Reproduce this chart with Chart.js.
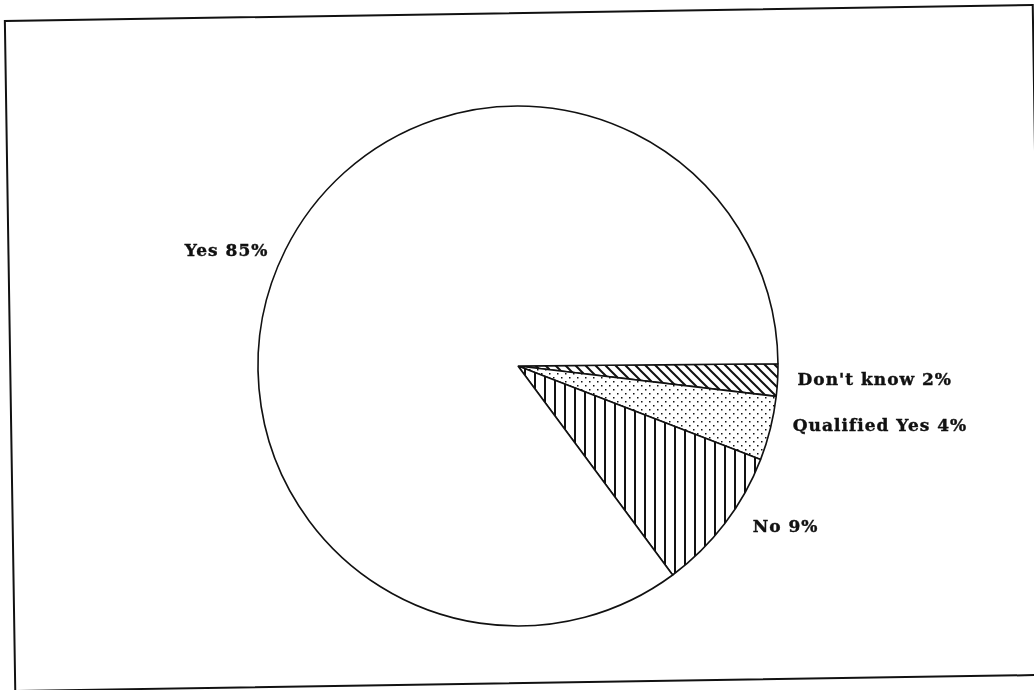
<!DOCTYPE html>
<html>
<head>
<meta charset="utf-8">
<script src="https://cdn.jsdelivr.net/npm/chart.js@4"></script>
<style>
  html, body { margin: 0; padding: 0; background: #fff; overflow: hidden; }
  #wrap { position: relative; width: 1034px; height: 690px; }
  #frame {
    position: absolute; left: 9px; top: 12px; width: 1030px; height: 672px;
    box-sizing: border-box; border: 2px solid #111;
    transform: rotate(-0.89deg);
  }
  canvas { position: absolute; left: 0; top: 0; }
</style>
</head>
<body>
<div id="wrap">
  <div id="frame"></div>
  <canvas id="myChart" width="1034" height="690"></canvas>
</div>
<script>
// survey answers, clockwise from 3 o'clock
var categories = ["Don't know", 'Qualified Yes', 'No', 'Yes'];
var shares = [2, 4, 9, 85];
var fills = ['diagonal', 'dots', 'vertical', 'plain'];

// small nudges for the outside labels
var labelNudge = [[0, -1], [3, -7], [12, -8], [1, 11]];

function pattern(kind) {
  if (kind === 'plain') return '#fff';
  var s = kind === 'dots' ? 8 : 10;
  var c = document.createElement('canvas');
  c.width = s; c.height = s;
  var g = c.getContext('2d');
  g.fillStyle = '#fff';
  g.fillRect(0, 0, s, s);
  g.fillStyle = '#111';
  g.strokeStyle = '#111';
  g.lineWidth = 2;
  if (kind === 'vertical') {
    g.fillRect(4, 0, 2, s);
  } else if (kind === 'diagonal') {
    g.beginPath();
    [-s, 0, s].forEach(function (k) {
      g.moveTo(-2, -2 + k);
      g.lineTo(s + 2, s + 2 + k);
    });
    g.stroke();
  } else {
    g.fillRect(1, 1, 1.5, 1.5);
    g.fillRect(5, 5, 1.5, 1.5);
  }
  return g.createPattern(c, 'repeat');
}

var outsideLabels = {
  id: 'outsideLabels',
  afterDatasetsDraw: function (chart) {
    var ctx = chart.ctx;
    var arcs = chart.getDatasetMeta(0).data;
    ctx.save();
    ctx.font = 'bold 17px "DejaVu Serif"';
    ctx.letterSpacing = '1px';
    ctx.textBaseline = 'middle';
    ctx.fillStyle = '#111';
    ctx.strokeStyle = '#111';
    ctx.lineWidth = 0.4;
    arcs.forEach(function (arc, i) {
      var p = arc.getProps(['x', 'y', 'startAngle', 'endAngle', 'outerRadius'], true);
      var mid = (p.startAngle + p.endAngle) / 2;
      var r = p.outerRadius + 20;
      var x = p.x + Math.cos(mid) * r + labelNudge[i][0];
      var y = p.y + Math.sin(mid) * r + labelNudge[i][1];
      var text = categories[i] + ' ' + shares[i] + '%';
      ctx.textAlign = Math.cos(mid) < 0 ? 'right' : 'left';
      ctx.fillText(text, x, y);
      ctx.strokeText(text, x, y);
    });
    ctx.restore();
  }
};

var ctx = document.getElementById('myChart').getContext('2d');
var chart = new Chart(ctx, {
  type: 'pie',
  data: {
    labels: categories,
    datasets: [{
      data: shares,
      backgroundColor: fills.map(pattern),
      borderColor: '#111',
      borderWidth: 1.6,
      radius: 260,
      hoverOffset: 0
    }]
  },
  options: {
    responsive: false,
    devicePixelRatio: 1,
    animation: false,
    rotation: 89.5,
    layout: { padding: { left: 2, right: 0, top: 106, bottom: 64 } },
    plugins: {
      legend: { display: false },
      tooltip: { enabled: false }
    },
    events: []
  },
  plugins: [outsideLabels]
});
</script>
</body>
</html>
